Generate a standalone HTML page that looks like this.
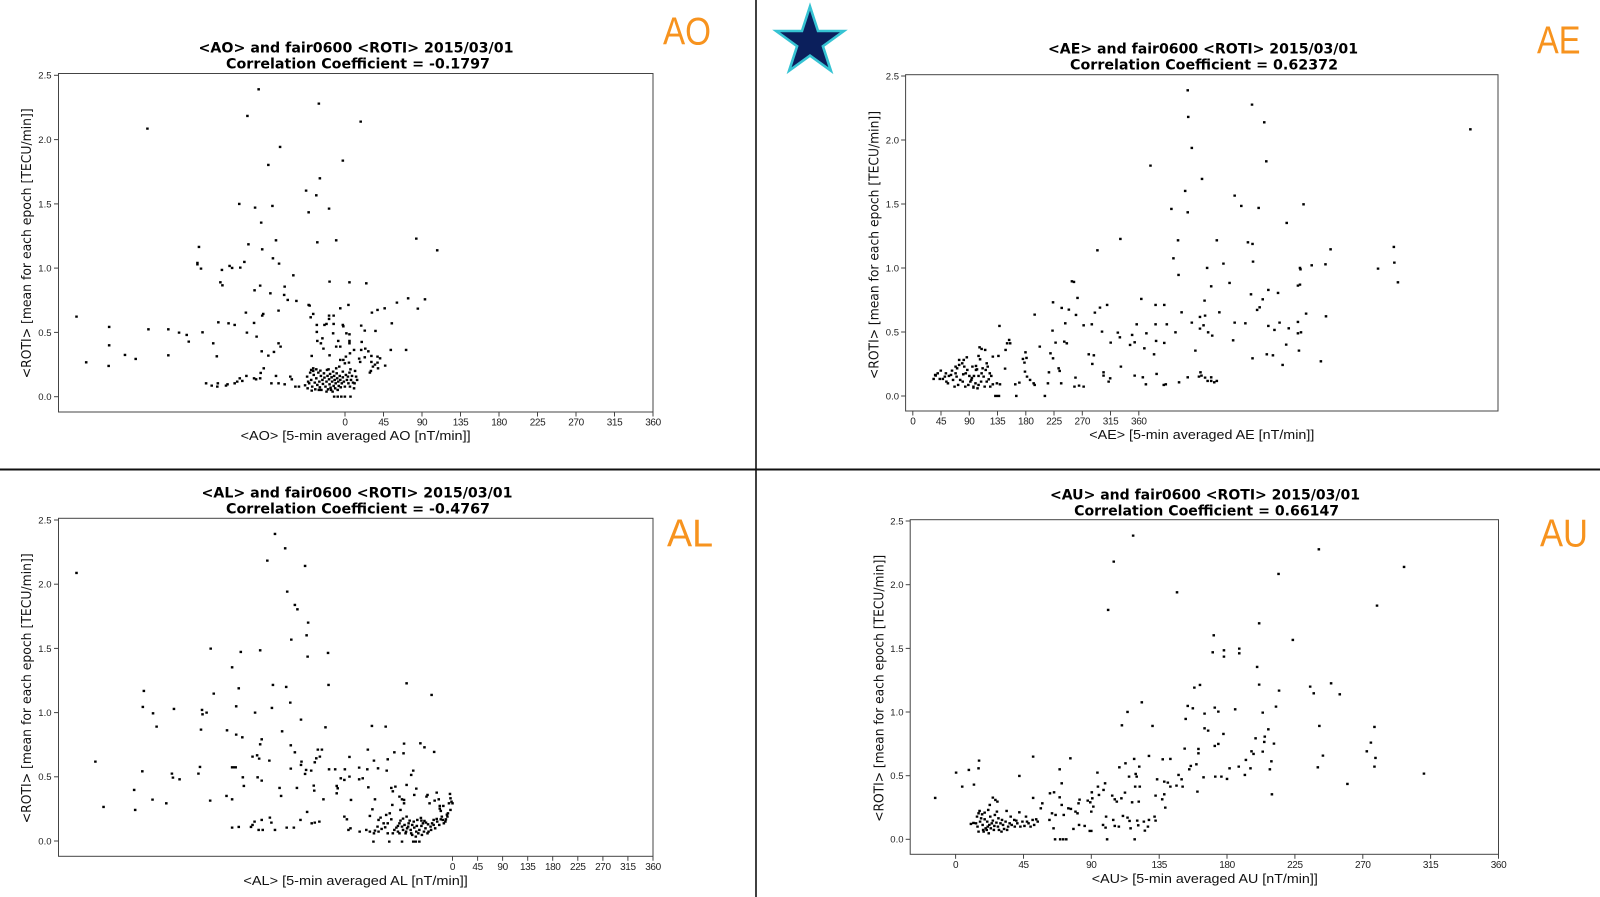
<!DOCTYPE html>
<html><head><meta charset="utf-8"><style>
html,body{margin:0;padding:0;background:#fff;}
svg{display:block;}
.t{font-family:"DejaVu Sans","Liberation Sans",sans-serif;font-weight:bold;font-size:14px;fill:#000;text-anchor:middle;}
.xl{font-family:"Liberation Sans",sans-serif;font-size:12.5px;fill:#111;text-anchor:middle;}
.yl{font-family:"DejaVu Sans","Liberation Sans",sans-serif;font-size:13px;fill:#111;text-anchor:middle;}
.yt{font-family:"Liberation Sans",sans-serif;font-size:9.5px;fill:#222;text-anchor:end;}
.xt{font-family:"Liberation Sans",sans-serif;font-size:10px;fill:#222;text-anchor:middle;letter-spacing:-0.4px;}
.big{font-family:"Liberation Sans",sans-serif;font-size:39px;fill:#F7931E;}
.sp{fill:none;stroke:#444;stroke-width:1;}
.tk{stroke:#444;stroke-width:1;}
.d{fill:#000;}
</style></head><body>
<svg width="1600" height="897" viewBox="0 0 1600 897" xmlns="http://www.w3.org/2000/svg">
<rect width="1600" height="897" fill="#fff"/>
<line x1="756" y1="0" x2="756" y2="897" stroke="#111" stroke-width="1.6"/>
<line x1="0" y1="469.5" x2="1600" y2="469.5" stroke="#111" stroke-width="2"/>
<polygon points="810,6.5 818,31 843.8,31 822.9,46.2 830.9,70.7 810,55.6 789.1,70.7 797.1,46.2 776.2,31 802,31" fill="#0B1F5C" stroke="#36C3D3" stroke-width="2.6" stroke-linejoin="miter"/>
<text class="big" x="663" y="44.5" textLength="48" lengthAdjust="spacingAndGlyphs">AO</text>
<text class="big" x="1537" y="53.5" textLength="43.5" lengthAdjust="spacingAndGlyphs">AE</text>
<text class="big" x="667" y="546.5" textLength="46" lengthAdjust="spacingAndGlyphs">AL</text>
<text class="big" x="1540" y="546.5" textLength="48" lengthAdjust="spacingAndGlyphs">AU</text>

<!-- ================= AO panel ================= -->
<text class="t" x="356" y="52.5" textLength="315" lengthAdjust="spacingAndGlyphs">&lt;AO&gt; and fair0600 &lt;ROTI&gt; 2015/03/01</text>
<text class="t" x="358" y="68.5" textLength="264" lengthAdjust="spacingAndGlyphs">Correlation Coefficient = -0.1797</text>
<rect class="sp" x="58.5" y="73.5" width="594.5" height="338.5"/>
<g class="tk">
<line x1="54" y1="396.7" x2="58.5" y2="396.7"/><line x1="54" y1="332.4" x2="58.5" y2="332.4"/><line x1="54" y1="268.1" x2="58.5" y2="268.1"/><line x1="54" y1="203.9" x2="58.5" y2="203.9"/><line x1="54" y1="139.6" x2="58.5" y2="139.6"/><line x1="54" y1="75.3" x2="58.5" y2="75.3"/>
<line x1="345" y1="412" x2="345" y2="416.5"/><line x1="383.5" y1="412" x2="383.5" y2="416.5"/><line x1="422" y1="412" x2="422" y2="416.5"/><line x1="460.5" y1="412" x2="460.5" y2="416.5"/><line x1="499" y1="412" x2="499" y2="416.5"/><line x1="537.5" y1="412" x2="537.5" y2="416.5"/><line x1="576" y1="412" x2="576" y2="416.5"/><line x1="614.5" y1="412" x2="614.5" y2="416.5"/><line x1="653" y1="412" x2="653" y2="416.5"/>
</g>
<text class="yt" x="51.5" y="400.1">0.0</text><text class="yt" x="51.5" y="335.8">0.5</text><text class="yt" x="51.5" y="271.5">1.0</text><text class="yt" x="51.5" y="207.3">1.5</text><text class="yt" x="51.5" y="143">2.0</text><text class="yt" x="51.5" y="78.7">2.5</text>
<text class="xt" x="345" y="425.5">0</text><text class="xt" x="383.5" y="425.5">45</text><text class="xt" x="422" y="425.5">90</text><text class="xt" x="460.5" y="425.5">135</text><text class="xt" x="499" y="425.5">180</text><text class="xt" x="537.5" y="425.5">225</text><text class="xt" x="576" y="425.5">270</text><text class="xt" x="614.5" y="425.5">315</text><text class="xt" x="653" y="425.5">360</text>
<text class="xl" x="355.6" y="440" textLength="230" lengthAdjust="spacingAndGlyphs">&lt;AO&gt; [5-min averaged AO [nT/min]]</text>
<text class="yl" transform="translate(31,243.3) rotate(-90)" textLength="270" lengthAdjust="spacingAndGlyphs">&lt;ROTI&gt; [mean for each epoch [TECU/min]]</text>
<g transform="translate(-1.3,-1.2) scale(0.5102,0.33333)">
<path class="d" d="M507 268h5v7h-5zM625 311h5v7h-5zM485 348h5v7h-5zM707 365h5v7h-5zM289 386h5v7h-5zM549 441h5v7h-5zM526 495h5v7h-5zM672 482h5v7h-5zM627 535h5v7h-5zM600 572h5v7h-5zM620 586h5v7h-5zM605 637h5v7h-5zM645 626h5v7h-5zM469 612h5v7h-5zM500 623h5v7h-5zM534 618h5v7h-5zM512 668h5v7h-5zM541 721h5v7h-5zM487 733h5v7h-5zM622 727h5v7h-5zM659 721h5v7h-5zM816 716h5v7h-5zM857 751h5v7h-5zM390 741h5v7h-5zM387 789h5v7h-5zM387 793h5v7h-5zM394 806h5v7h-5zM514 748h5v7h-5zM535 775h5v7h-5zM547 791h5v7h-5zM479 786h5v7h-5zM471 803h5v7h-5zM450 798h5v7h-5zM455 804h5v7h-5zM435 810h5v7h-5zM432 847h5v7h-5zM436 856h5v7h-5zM575 826h5v7h-5zM510 857h5v7h-5zM499 871h5v7h-5zM530 880h5v7h-5zM558 860h5v7h-5zM557 885h5v7h-5zM564 900h5v7h-5zM581 903h5v7h-5zM646 845h5v7h-5zM685 847h5v7h-5zM718 850h5v7h-5zM605 915h5v7h-5zM607 917h5v7h-5zM683 915h5v7h-5zM667 925h5v7h-5zM729 938h5v7h-5zM740 930h5v7h-5zM754 925h5v7h-5zM778 908h5v7h-5zM800 895h5v7h-5zM833 898h5v7h-5zM819 926h5v7h-5zM482 938h5v7h-5zM516 942h5v7h-5zM514 947h5v7h-5zM546 932h5v7h-5zM614 942h5v7h-5zM609 952h5v7h-5zM645 947h5v7h-5zM645 957h5v7h-5zM654 947h5v7h-5zM621 975h5v7h-5zM636 975h5v7h-5zM640 972h5v7h-5zM654 972h5v7h-5zM672 975h5v7h-5zM673 979h5v7h-5zM708 977h5v7h-5zM715 992h5v7h-5zM736 993h5v7h-5zM768 970h5v7h-5zM428 967h5v7h-5zM448 970h5v7h-5zM460 975h5v7h-5zM498 969h5v7h-5zM150 950h5v7h-5zM214 981h5v7h-5zM291 988h5v7h-5zM330 988h5v7h-5zM351 998h5v7h-5zM366 1005h5v7h-5zM397 997h5v7h-5zM370 1025h5v7h-5zM214 1036h5v7h-5zM245 1065h5v7h-5zM266 1077h5v7h-5zM169 1087h5v7h-5zM213 1098h5v7h-5zM330 1066h5v7h-5zM418 1030h5v7h-5zM425 1069h5v7h-5zM484 998h5v7h-5zM503 1010h5v7h-5zM546 1030h5v7h-5zM550 1040h5v7h-5zM513 1054h5v7h-5zM537 1056h5v7h-5zM526 1067h5v7h-5zM517 1105h5v7h-5zM511 1119h5v7h-5zM621 996h5v7h-5zM653 1000h5v7h-5zM685 1003h5v7h-5zM679 1000h5v7h-5zM663 1023h5v7h-5zM685 1023h5v7h-5zM685 1030h5v7h-5zM709 1026h5v7h-5zM622 1023h5v7h-5zM629 1030h5v7h-5zM632 1015h5v7h-5zM611 1068h5v7h-5zM634 1046h5v7h-5zM646 1066h5v7h-5zM659 1040h5v7h-5zM667 1040h5v7h-5zM686 1060h5v7h-5zM694 1050h5v7h-5zM708 1050h5v7h-5zM716 1046h5v7h-5zM722 1054h5v7h-5zM678 1070h5v7h-5zM673 1080h5v7h-5zM667 1080h5v7h-5zM676 1090h5v7h-5zM684 1088h5v7h-5zM665 1100h5v7h-5zM704 1076h5v7h-5zM706 1086h5v7h-5zM715 1072h5v7h-5zM728 1068h5v7h-5zM740 1070h5v7h-5zM745 1075h5v7h-5zM728 1086h5v7h-5zM740 1088h5v7h-5zM735 1094h5v7h-5zM731 1100h5v7h-5zM741 1105h5v7h-5zM755 1097h5v7h-5zM727 1113h5v7h-5zM725 1118h5v7h-5zM766 1050h5v7h-5zM796 1050h5v7h-5zM404 1150h5v7h-5zM427 1150h5v7h-5zM426 1160h5v7h-5zM415 1157h5v7h-5zM443 1157h5v7h-5zM446 1153h5v7h-5zM460 1150h5v7h-5zM465 1145h5v7h-5zM470 1135h5v7h-5zM475 1143h5v7h-5zM483 1128h5v7h-5zM498 1135h5v7h-5zM510 1135h5v7h-5zM502 1138h5v7h-5zM532 1150h5v7h-5zM546 1150h5v7h-5zM558 1153h5v7h-5zM541 1128h5v7h-5zM569 1130h5v7h-5zM572 1138h5v7h-5zM579 1160h5v7h-5zM586 1160h5v7h-5zM598 1156h5v7h-5zM610 1110h5v7h-5zM614 1113h5v7h-5zM620 1108h5v7h-5zM655 1190h5v7h-5zM662 1190h5v7h-5zM669 1190h5v7h-5zM676 1190h5v7h-5zM687 1190h5v7h-5zM603 1165h5v7h-5zM606 1150h5v7h-5zM610 1140h5v7h-5zM612 1160h5v7h-5zM615 1125h5v7h-5zM617 1148h5v7h-5zM618 1168h5v7h-5zM620 1135h5v7h-5zM622 1155h5v7h-5zM624 1118h5v7h-5zM626 1145h5v7h-5zM627 1162h5v7h-5zM629 1128h5v7h-5zM630 1170h5v7h-5zM632 1140h5v7h-5zM633 1152h5v7h-5zM635 1120h5v7h-5zM636 1133h5v7h-5zM638 1160h5v7h-5zM640 1145h5v7h-5zM641 1110h5v7h-5zM642 1128h5v7h-5zM643 1168h5v7h-5zM645 1138h5v7h-5zM646 1153h5v7h-5zM647 1122h5v7h-5zM648 1163h5v7h-5zM650 1132h5v7h-5zM651 1145h5v7h-5zM652 1175h5v7h-5zM653 1115h5v7h-5zM654 1158h5v7h-5zM655 1128h5v7h-5zM656 1140h5v7h-5zM657 1165h5v7h-5zM658 1150h5v7h-5zM660 1120h5v7h-5zM661 1135h5v7h-5zM662 1170h5v7h-5zM663 1145h5v7h-5zM664 1158h5v7h-5zM666 1128h5v7h-5zM667 1140h5v7h-5zM668 1162h5v7h-5zM670 1150h5v7h-5zM672 1132h5v7h-5zM674 1145h5v7h-5zM676 1160h5v7h-5zM678 1125h5v7h-5zM680 1140h5v7h-5zM682 1130h5v7h-5zM683 1150h5v7h-5zM685 1118h5v7h-5zM686 1160h5v7h-5zM688 1140h5v7h-5zM690 1128h5v7h-5zM692 1148h5v7h-5zM694 1165h5v7h-5zM696 1113h5v7h-5zM698 1130h5v7h-5zM700 1140h5v7h-5zM602 1130h5v7h-5zM608 1118h5v7h-5zM614 1105h5v7h-5zM628 1112h5v7h-5zM644 1108h5v7h-5zM659 1105h5v7h-5zM672 1115h5v7h-5zM687 1108h5v7h-5zM695 1150h5v7h-5zM640 1175h5v7h-5zM625 1170h5v7h-5zM611 1172h5v7h-5zM604 1145h5v7h-5zM649 1170h5v7h-5z"/>
</g>

<!-- ================= AE panel ================= -->
<text class="t" x="1203" y="53.5" textLength="310" lengthAdjust="spacingAndGlyphs">&lt;AE&gt; and fair0600 &lt;ROTI&gt; 2015/03/01</text>
<text class="t" x="1204" y="69.3" textLength="268" lengthAdjust="spacingAndGlyphs">Correlation Coefficient = 0.62372</text>
<rect class="sp" x="905.6" y="74.7" width="592.4" height="336.3"/>
<g class="tk">
<line x1="901.1" y1="396" x2="905.6" y2="396"/><line x1="901.1" y1="332" x2="905.6" y2="332"/><line x1="901.1" y1="268" x2="905.6" y2="268"/><line x1="901.1" y1="204" x2="905.6" y2="204"/><line x1="901.1" y1="140" x2="905.6" y2="140"/><line x1="901.1" y1="76" x2="905.6" y2="76"/>
<line x1="912.8" y1="411" x2="912.8" y2="415.5"/><line x1="941" y1="411" x2="941" y2="415.5"/><line x1="969.3" y1="411" x2="969.3" y2="415.5"/><line x1="997.5" y1="411" x2="997.5" y2="415.5"/><line x1="1025.8" y1="411" x2="1025.8" y2="415.5"/><line x1="1054" y1="411" x2="1054" y2="415.5"/><line x1="1082.3" y1="411" x2="1082.3" y2="415.5"/><line x1="1110.5" y1="411" x2="1110.5" y2="415.5"/><line x1="1138.8" y1="411" x2="1138.8" y2="415.5"/>
</g>
<text class="yt" x="899" y="399.4">0.0</text><text class="yt" x="899" y="335.4">0.5</text><text class="yt" x="899" y="271.4">1.0</text><text class="yt" x="899" y="207.4">1.5</text><text class="yt" x="899" y="143.4">2.0</text><text class="yt" x="899" y="79.4">2.5</text>
<text class="xt" x="912.8" y="424.5">0</text><text class="xt" x="941" y="424.5">45</text><text class="xt" x="969.3" y="424.5">90</text><text class="xt" x="997.5" y="424.5">135</text><text class="xt" x="1025.8" y="424.5">180</text><text class="xt" x="1054" y="424.5">225</text><text class="xt" x="1082.3" y="424.5">270</text><text class="xt" x="1110.5" y="424.5">315</text><text class="xt" x="1138.8" y="424.5">360</text>
<text class="xl" x="1201.8" y="439" textLength="225" lengthAdjust="spacingAndGlyphs">&lt;AE&gt; [5-min averaged AE [nT/min]]</text>
<text class="yl" transform="translate(878.5,245) rotate(-90)" textLength="268" lengthAdjust="spacingAndGlyphs">&lt;ROTI&gt; [mean for each epoch [TECU/min]]</text>
<g transform="translate(798.7,-1.2) scale(0.5102,0.33333)">
<path class="d" d="M760 271h5v7h-5zM761 351h5v7h-5zM886 314h5v7h-5zM910 367h5v7h-5zM1314 388h5v7h-5zM768 444h5v7h-5zM914 484h5v7h-5zM687 497h5v7h-5zM788 537h5v7h-5zM755 573h5v7h-5zM852 587h5v7h-5zM865 618h5v7h-5zM899 624h5v7h-5zM987 613h5v7h-5zM728 627h5v7h-5zM760 637h5v7h-5zM954 669h5v7h-5zM628 717h5v7h-5zM741 721h5v7h-5zM817 721h5v7h-5zM878 727h5v7h-5zM887 732h5v7h-5zM583 751h5v7h-5zM1040 748h5v7h-5zM1164 741h5v7h-5zM732 775h5v7h-5zM888 785h5v7h-5zM830 791h5v7h-5zM798 804h5v7h-5zM980 804h5v7h-5zM981 808h5v7h-5zM1003 796h5v7h-5zM1030 793h5v7h-5zM1133 806h5v7h-5zM1165 788h5v7h-5zM1172 847h5v7h-5zM742 825h5v7h-5zM842 849h5v7h-5zM806 859h5v7h-5zM976 857h5v7h-5zM980 854h5v7h-5zM533 844h5v7h-5zM537 846h5v7h-5zM748 937h5v7h-5zM884 883h5v7h-5zM918 870h5v7h-5zM937 879h5v7h-5zM907 898h5v7h-5zM901 922h5v7h-5zM896 930h5v7h-5zM793 902h5v7h-5zM794 947h5v7h-5zM822 937h5v7h-5zM784 951h5v7h-5zM544 894h5v7h-5zM669 897h5v7h-5zM697 915h5v7h-5zM714 915h5v7h-5zM602 915h5v7h-5zM588 923h5v7h-5zM578 938h5v7h-5zM496 907h5v7h-5zM513 924h5v7h-5zM527 929h5v7h-5zM541 945h5v7h-5zM460 944h5v7h-5zM768 968h5v7h-5zM791 976h5v7h-5zM784 986h5v7h-5zM800 997h5v7h-5zM808 1007h5v7h-5zM736 997h5v7h-5zM697 973h5v7h-5zM719 973h5v7h-5zM660 973h5v7h-5zM679 1000h5v7h-5zM651 1005h5v7h-5zM656 1027h5v7h-5zM647 1035h5v7h-5zM623 998h5v7h-5zM627 1012h5v7h-5zM609 1028h5v7h-5zM592 995h5v7h-5zM572 973h5v7h-5zM556 976h5v7h-5zM520 970h5v7h-5zM495 992h5v7h-5zM501 1028h5v7h-5zM518 1025h5v7h-5zM523 1030h5v7h-5zM852 968h5v7h-5zM873 970h5v7h-5zM849 1021h5v7h-5zM918 978h5v7h-5zM930 990h5v7h-5zM940 968h5v7h-5zM958 985h5v7h-5zM976 966h5v7h-5zM976 1000h5v7h-5zM982 997h5v7h-5zM992 941h5v7h-5zM1031 949h5v7h-5zM953 1034h5v7h-5zM978 1052h5v7h-5zM946 1095h5v7h-5zM915 1063h5v7h-5zM927 1066h5v7h-5zM887 1075h5v7h-5zM1021 1084h5v7h-5zM775 1052h5v7h-5zM694 1063h5v7h-5zM698 1023h5v7h-5zM714 1029h5v7h-5zM675 1045h5v7h-5zM629 1100h5v7h-5zM566 1063h5v7h-5zM576 1066h5v7h-5zM573 1092h5v7h-5zM595 1117h5v7h-5zM595 1127h5v7h-5zM608 1135h5v7h-5zM605 1145h5v7h-5zM656 1127h5v7h-5zM672 1132h5v7h-5zM678 1153h5v7h-5zM699 1122h5v7h-5zM713 1155h5v7h-5zM717 1153h5v7h-5zM743 1147h5v7h-5zM760 1132h5v7h-5zM782 1130h5v7h-5zM785 1117h5v7h-5zM787 1127h5v7h-5zM794 1133h5v7h-5zM799 1143h5v7h-5zM806 1132h5v7h-5zM806 1143h5v7h-5zM812 1147h5v7h-5zM817 1143h5v7h-5zM491 1060h5v7h-5zM496 1075h5v7h-5zM507 1105h5v7h-5zM509 1113h5v7h-5zM512 1150h5v7h-5zM488 1117h5v7h-5zM486 1150h5v7h-5zM480 1188h5v7h-5zM470 1040h5v7h-5zM442 1057h5v7h-5zM444 1074h5v7h-5zM440 1088h5v7h-5zM437 1077h5v7h-5zM441 1115h5v7h-5zM445 1130h5v7h-5zM451 1140h5v7h-5zM458 1150h5v7h-5zM460 1155h5v7h-5zM430 1148h5v7h-5zM422 1153h5v7h-5zM424 1188h5v7h-5zM406 1030h5v7h-5zM403 1050h5v7h-5zM410 1020h5v7h-5zM412 1030h5v7h-5zM391 978h5v7h-5zM389 1068h5v7h-5zM402 1106h5v7h-5zM387 1188h5v7h-5zM390 1188h5v7h-5zM383 1188h5v7h-5zM386 1150h5v7h-5zM392 1153h5v7h-5zM378 1070h5v7h-5zM378 1153h5v7h-5zM373 1160h5v7h-5zM363 1050h5v7h-5zM366 1090h5v7h-5zM364 1110h5v7h-5zM352 1042h5v7h-5zM356 1047h5v7h-5zM358 1105h5v7h-5zM350 1068h5v7h-5zM353 1078h5v7h-5zM345 1098h5v7h-5zM347 1108h5v7h-5zM341 1128h5v7h-5zM337 1134h5v7h-5zM336 1140h5v7h-5zM340 1160h5v7h-5zM340 1163h5v7h-5zM327 1072h5v7h-5zM321 1080h5v7h-5zM312 1080h5v7h-5zM318 1090h5v7h-5zM312 1095h5v7h-5zM305 1100h5v7h-5zM308 1105h5v7h-5zM305 1120h5v7h-5zM307 1130h5v7h-5zM325 1120h5v7h-5zM320 1123h5v7h-5zM319 1145h5v7h-5zM324 1160h5v7h-5zM328 1110h5v7h-5zM296 1125h5v7h-5zM292 1128h5v7h-5zM287 1145h5v7h-5zM280 1137h5v7h-5zM274 1137h5v7h-5zM276 1112h5v7h-5zM270 1120h5v7h-5zM266 1127h5v7h-5zM262 1137h5v7h-5zM265 1125h5v7h-5zM303 1160h5v7h-5zM330 1155h5v7h-5zM350 1155h5v7h-5zM355 1145h5v7h-5zM360 1130h5v7h-5zM370 1138h5v7h-5zM375 1128h5v7h-5zM350 1128h5v7h-5zM345 1110h5v7h-5zM540 1133h5v7h-5zM538 1160h5v7h-5zM547 1157h5v7h-5zM556 1160h5v7h-5zM284 1130h5v7h-5zM290 1150h5v7h-5zM298 1112h5v7h-5zM314 1140h5v7h-5zM332 1128h5v7h-5zM338 1100h5v7h-5zM344 1150h5v7h-5zM356 1120h5v7h-5zM362 1160h5v7h-5zM368 1100h5v7h-5zM300 1140h5v7h-5zM286 1120h5v7h-5zM310 1155h5v7h-5zM322 1100h5v7h-5zM334 1145h5v7h-5zM348 1165h5v7h-5zM366 1145h5v7h-5zM372 1120h5v7h-5z"/>
</g>

<!-- ================= AL panel ================= -->
<text class="t" x="357" y="497.3" textLength="311" lengthAdjust="spacingAndGlyphs">&lt;AL&gt; and fair0600 &lt;ROTI&gt; 2015/03/01</text>
<text class="t" x="358" y="513.3" textLength="264" lengthAdjust="spacingAndGlyphs">Correlation Coefficient = -0.4767</text>
<rect class="sp" x="58.5" y="518.3" width="594.5" height="338"/>
<g class="tk">
<line x1="54" y1="841" x2="58.5" y2="841"/><line x1="54" y1="776.8" x2="58.5" y2="776.8"/><line x1="54" y1="712.6" x2="58.5" y2="712.6"/><line x1="54" y1="648.4" x2="58.5" y2="648.4"/><line x1="54" y1="584.2" x2="58.5" y2="584.2"/><line x1="54" y1="520" x2="58.5" y2="520"/>
<line x1="452.5" y1="856.3" x2="452.5" y2="860.8"/><line x1="477.6" y1="856.3" x2="477.6" y2="860.8"/><line x1="502.6" y1="856.3" x2="502.6" y2="860.8"/><line x1="527.7" y1="856.3" x2="527.7" y2="860.8"/><line x1="552.7" y1="856.3" x2="552.7" y2="860.8"/><line x1="577.8" y1="856.3" x2="577.8" y2="860.8"/><line x1="602.9" y1="856.3" x2="602.9" y2="860.8"/><line x1="627.9" y1="856.3" x2="627.9" y2="860.8"/><line x1="653" y1="856.3" x2="653" y2="860.8"/>
</g>
<text class="yt" x="51.5" y="844.4">0.0</text><text class="yt" x="51.5" y="780.2">0.5</text><text class="yt" x="51.5" y="716">1.0</text><text class="yt" x="51.5" y="651.8">1.5</text><text class="yt" x="51.5" y="587.6">2.0</text><text class="yt" x="51.5" y="523.4">2.5</text>
<text class="xt" x="452.5" y="869.8">0</text><text class="xt" x="477.6" y="869.8">45</text><text class="xt" x="502.6" y="869.8">90</text><text class="xt" x="527.7" y="869.8">135</text><text class="xt" x="552.7" y="869.8">180</text><text class="xt" x="577.8" y="869.8">225</text><text class="xt" x="602.9" y="869.8">270</text><text class="xt" x="627.9" y="869.8">315</text><text class="xt" x="653" y="869.8">360</text>
<text class="xl" x="355.6" y="885" textLength="224.5" lengthAdjust="spacingAndGlyphs">&lt;AL&gt; [5-min averaged AL [nT/min]]</text>
<text class="yl" transform="translate(31,688.3) rotate(-90)" textLength="270" lengthAdjust="spacingAndGlyphs">&lt;ROTI&gt; [mean for each epoch [TECU/min]]</text>
<g transform="translate(-1.3,448.8) scale(0.5102,0.33333)">
<path class="d" d="M539 252h5v7h-5zM559 295h5v7h-5zM524 332h5v7h-5zM598 348h5v7h-5zM150 369h5v7h-5zM563 425h5v7h-5zM578 465h5v7h-5zM583 478h5v7h-5zM604 518h5v7h-5zM601 556h5v7h-5zM571 569h5v7h-5zM413 596h5v7h-5zM472 606h5v7h-5zM510 601h5v7h-5zM603 620h5v7h-5zM643 609h5v7h-5zM455 652h5v7h-5zM535 705h5v7h-5zM561 711h5v7h-5zM644 705h5v7h-5zM797 700h5v7h-5zM846 735h5v7h-5zM468 715h5v7h-5zM282 723h5v7h-5zM419 731h5v7h-5zM569 758h5v7h-5zM533 774h5v7h-5zM463 769h5v7h-5zM280 771h5v7h-5zM300 790h5v7h-5zM341 777h5v7h-5zM396 780h5v7h-5zM397 793h5v7h-5zM405 788h5v7h-5zM500 788h5v7h-5zM590 809h5v7h-5zM307 830h5v7h-5zM394 839h5v7h-5zM445 841h5v7h-5zM463 854h5v7h-5zM475 862h5v7h-5zM553 844h5v7h-5zM638 832h5v7h-5zM729 828h5v7h-5zM756 830h5v7h-5zM513 868h5v7h-5zM510 883h5v7h-5zM570 886h5v7h-5zM578 907h5v7h-5zM623 899h5v7h-5zM631 899h5v7h-5zM620 925h5v7h-5zM617 937h5v7h-5zM627 920h5v7h-5zM591 935h5v7h-5zM600 960h5v7h-5zM610 962h5v7h-5zM598 972h5v7h-5zM570 956h5v7h-5zM590 945h5v7h-5zM528 932h5v7h-5zM495 920h5v7h-5zM504 916h5v7h-5zM508 926h5v7h-5zM455 952h5v7h-5zM462 952h5v7h-5zM476 982h5v7h-5zM478 1008h5v7h-5zM505 982h5v7h-5zM513 992h5v7h-5zM548 1014h5v7h-5zM551 1038h5v7h-5zM582 1014h5v7h-5zM615 1007h5v7h-5zM616 1022h5v7h-5zM634 1048h5v7h-5zM645 958h5v7h-5zM657 958h5v7h-5zM676 958h5v7h-5zM685 921h5v7h-5zM704 953h5v7h-5zM720 958h5v7h-5zM711 985h5v7h-5zM704 988h5v7h-5zM685 980h5v7h-5zM675 990h5v7h-5zM668 985h5v7h-5zM660 1008h5v7h-5zM662 1015h5v7h-5zM660 1030h5v7h-5zM688 1050h5v7h-5zM722 1012h5v7h-5zM721 899h5v7h-5zM733 932h5v7h-5zM741 955h5v7h-5zM760 928h5v7h-5zM758 962h5v7h-5zM773 907h5v7h-5zM791 910h5v7h-5zM792 881h5v7h-5zM824 880h5v7h-5zM832 892h5v7h-5zM851 906h5v7h-5zM810 962h5v7h-5zM806 975h5v7h-5zM797 1005h5v7h-5zM816 1016h5v7h-5zM767 1014h5v7h-5zM770 1024h5v7h-5zM775 1010h5v7h-5zM735 1048h5v7h-5zM730 1078h5v7h-5zM725 1098h5v7h-5zM733 1150h5v7h-5zM742 1110h5v7h-5zM746 1103h5v7h-5zM757 1095h5v7h-5zM764 1090h5v7h-5zM769 1065h5v7h-5zM783 1040h5v7h-5zM788 1048h5v7h-5zM792 1050h5v7h-5zM785 1080h5v7h-5zM792 1060h5v7h-5zM812 1035h5v7h-5zM836 1040h5v7h-5zM838 1035h5v7h-5zM842 1060h5v7h-5zM852 1052h5v7h-5zM856 1028h5v7h-5zM860 1048h5v7h-5zM862 1068h5v7h-5zM862 1076h5v7h-5zM864 1083h5v7h-5zM869 1068h5v7h-5zM880 1060h5v7h-5zM885 1055h5v7h-5zM882 1032h5v7h-5zM883 1080h5v7h-5zM878 1090h5v7h-5zM877 1100h5v7h-5zM874 1108h5v7h-5zM864 1108h5v7h-5zM856 1107h5v7h-5zM850 1110h5v7h-5zM847 1120h5v7h-5zM839 1123h5v7h-5zM832 1113h5v7h-5zM825 1104h5v7h-5zM818 1110h5v7h-5zM811 1115h5v7h-5zM803 1112h5v7h-5zM797 1100h5v7h-5zM790 1106h5v7h-5zM785 1112h5v7h-5zM783 1120h5v7h-5zM780 1128h5v7h-5zM777 1133h5v7h-5zM773 1140h5v7h-5zM790 1140h5v7h-5zM796 1145h5v7h-5zM800 1130h5v7h-5zM805 1140h5v7h-5zM812 1133h5v7h-5zM816 1145h5v7h-5zM820 1150h5v7h-5zM822 1140h5v7h-5zM826 1128h5v7h-5zM829 1120h5v7h-5zM834 1135h5v7h-5zM840 1145h5v7h-5zM845 1140h5v7h-5zM850 1125h5v7h-5zM857 1115h5v7h-5zM870 1120h5v7h-5zM866 1100h5v7h-5zM876 1094h5v7h-5zM887 1060h5v7h-5zM883 1045h5v7h-5zM767 1108h5v7h-5zM760 1120h5v7h-5zM755 1132h5v7h-5zM748 1137h5v7h-5zM740 1130h5v7h-5zM725 1145h5v7h-5zM718 1140h5v7h-5zM705 1145h5v7h-5zM687 1135h5v7h-5zM683 1140h5v7h-5zM680 1108h5v7h-5zM675 1100h5v7h-5zM263 1020h5v7h-5zM265 1080h5v7h-5zM299 1049h5v7h-5zM326 1060h5v7h-5zM203 1071h5v7h-5zM187 935h5v7h-5zM279 964h5v7h-5zM337 971h5v7h-5zM339 983h5v7h-5zM352 988h5v7h-5zM389 971h5v7h-5zM392 951h5v7h-5zM412 1052h5v7h-5zM444 1038h5v7h-5zM455 1048h5v7h-5zM458 952h5v7h-5zM455 1133h5v7h-5zM468 1131h5v7h-5zM492 1131h5v7h-5zM495 1125h5v7h-5zM499 1115h5v7h-5zM507 1140h5v7h-5zM513 1110h5v7h-5zM515 1140h5v7h-5zM529 1103h5v7h-5zM532 1118h5v7h-5zM539 1140h5v7h-5zM562 1133h5v7h-5zM576 1133h5v7h-5zM589 1110h5v7h-5zM602 1086h5v7h-5zM611 1120h5v7h-5zM617 1118h5v7h-5zM626 1115h5v7h-5zM732 1175h5v7h-5zM763 1175h5v7h-5zM788 1175h5v7h-5zM810 1175h5v7h-5zM815 1175h5v7h-5zM822 1175h5v7h-5zM783 1150h5v7h-5zM795 1150h5v7h-5zM808 1155h5v7h-5zM815 1160h5v7h-5zM827 1155h5v7h-5zM760 1150h5v7h-5zM742 1145h5v7h-5zM735 1142h5v7h-5zM793 1125h5v7h-5zM801 1120h5v7h-5zM808 1125h5v7h-5zM817 1128h5v7h-5zM826 1112h5v7h-5zM835 1118h5v7h-5zM844 1130h5v7h-5zM853 1135h5v7h-5zM861 1125h5v7h-5zM868 1110h5v7h-5zM873 1115h5v7h-5zM780 1145h5v7h-5zM788 1130h5v7h-5zM798 1135h5v7h-5zM806 1150h5v7h-5zM831 1145h5v7h-5zM838 1150h5v7h-5zM770 1150h5v7h-5zM752 1120h5v7h-5z"/>
</g>

<!-- ================= AU panel ================= -->
<text class="t" x="1205" y="499.3" textLength="310" lengthAdjust="spacingAndGlyphs">&lt;AU&gt; and fair0600 &lt;ROTI&gt; 2015/03/01</text>
<text class="t" x="1206.6" y="515.3" textLength="265" lengthAdjust="spacingAndGlyphs">Correlation Coefficient = 0.66147</text>
<rect class="sp" x="910.2" y="519.7" width="588.3" height="334.6"/>
<g class="tk">
<line x1="905.7" y1="839.3" x2="910.2" y2="839.3"/><line x1="905.7" y1="775.7" x2="910.2" y2="775.7"/><line x1="905.7" y1="712" x2="910.2" y2="712"/><line x1="905.7" y1="648.4" x2="910.2" y2="648.4"/><line x1="905.7" y1="584.7" x2="910.2" y2="584.7"/><line x1="905.7" y1="521" x2="910.2" y2="521"/>
<line x1="955.6" y1="854.3" x2="955.6" y2="858.8"/><line x1="1023.5" y1="854.3" x2="1023.5" y2="858.8"/><line x1="1091.3" y1="854.3" x2="1091.3" y2="858.8"/><line x1="1159.2" y1="854.3" x2="1159.2" y2="858.8"/><line x1="1227" y1="854.3" x2="1227" y2="858.8"/><line x1="1294.9" y1="854.3" x2="1294.9" y2="858.8"/><line x1="1362.8" y1="854.3" x2="1362.8" y2="858.8"/><line x1="1430.6" y1="854.3" x2="1430.6" y2="858.8"/><line x1="1498.5" y1="854.3" x2="1498.5" y2="858.8"/>
</g>
<text class="yt" x="903.5" y="842.7">0.0</text><text class="yt" x="903.5" y="779.1">0.5</text><text class="yt" x="903.5" y="715.4">1.0</text><text class="yt" x="903.5" y="651.8">1.5</text><text class="yt" x="903.5" y="588.1">2.0</text><text class="yt" x="903.5" y="524.4">2.5</text>
<text class="xt" x="955.6" y="867.8">0</text><text class="xt" x="1023.5" y="867.8">45</text><text class="xt" x="1091.3" y="867.8">90</text><text class="xt" x="1159.2" y="867.8">135</text><text class="xt" x="1227" y="867.8">180</text><text class="xt" x="1294.9" y="867.8">225</text><text class="xt" x="1362.8" y="867.8">270</text><text class="xt" x="1430.6" y="867.8">315</text><text class="xt" x="1498.5" y="867.8">360</text>
<text class="xl" x="1204.8" y="883" textLength="226" lengthAdjust="spacingAndGlyphs">&lt;AU&gt; [5-min averaged AU [nT/min]]</text>
<text class="yl" transform="translate(883.5,688.3) rotate(-90)" textLength="267" lengthAdjust="spacingAndGlyphs">&lt;ROTI&gt; [mean for each epoch [TECU/min]]</text>
<g transform="translate(798.7,448.8) scale(0.5102,0.33333)">
<path class="d" d="M653 257h5v7h-5zM615 335h5v7h-5zM1017 298h5v7h-5zM1184 351h5v7h-5zM938 372h5v7h-5zM739 427h5v7h-5zM604 480h5v7h-5zM1131 467h5v7h-5zM900 520h5v7h-5zM966 570h5v7h-5zM811 556h5v7h-5zM809 607h5v7h-5zM831 601h5v7h-5zM831 620h5v7h-5zM861 596h5v7h-5zM861 610h5v7h-5zM896 651h5v7h-5zM900 704h5v7h-5zM1000 710h5v7h-5zM1007 730h5v7h-5zM1041 700h5v7h-5zM1058 733h5v7h-5zM939 722h5v7h-5zM784 705h5v7h-5zM773 713h5v7h-5zM670 757h5v7h-5zM642 786h5v7h-5zM631 826h5v7h-5zM691 828h5v7h-5zM760 768h5v7h-5zM770 775h5v7h-5zM756 807h5v7h-5zM793 791h5v7h-5zM813 773h5v7h-5zM820 785h5v7h-5zM853 778h5v7h-5zM933 770h5v7h-5zM907 788h5v7h-5zM1018 828h5v7h-5zM1126 831h5v7h-5zM793 835h5v7h-5zM800 842h5v7h-5zM830 852h5v7h-5zM918 838h5v7h-5zM893 865h5v7h-5zM911 860h5v7h-5zM910 876h5v7h-5zM929 881h5v7h-5zM820 882h5v7h-5zM813 888h5v7h-5zM885 904h5v7h-5zM889 912h5v7h-5zM907 905h5v7h-5zM1111 904h5v7h-5zM1119 878h5v7h-5zM1025 917h5v7h-5zM1128 924h5v7h-5zM1126 950h5v7h-5zM754 896h5v7h-5zM781 897h5v7h-5zM781 910h5v7h-5zM726 927h5v7h-5zM766 948h5v7h-5zM777 943h5v7h-5zM763 958h5v7h-5zM742 975h5v7h-5zM748 988h5v7h-5zM738 1007h5v7h-5zM726 1010h5v7h-5zM714 995h5v7h-5zM721 998h5v7h-5zM700 988h5v7h-5zM714 1033h5v7h-5zM710 1048h5v7h-5zM716 1073h5v7h-5zM697 1037h5v7h-5zM684 918h5v7h-5zM711 928h5v7h-5zM655 927h5v7h-5zM626 952h5v7h-5zM638 940h5v7h-5zM658 972h5v7h-5zM660 980h5v7h-5zM665 950h5v7h-5zM645 980h5v7h-5zM657 1010h5v7h-5zM666 1010h5v7h-5zM637 1028h5v7h-5zM630 1045h5v7h-5zM617 1048h5v7h-5zM621 1055h5v7h-5zM651 1057h5v7h-5zM664 1055h5v7h-5zM612 1037h5v7h-5zM595 1020h5v7h-5zM598 1000h5v7h-5zM584 1010h5v7h-5zM586 1035h5v7h-5zM583 968h5v7h-5zM572 1027h5v7h-5zM573 1045h5v7h-5zM569 1057h5v7h-5zM575 1070h5v7h-5zM571 1085h5v7h-5zM564 1052h5v7h-5zM548 1049h5v7h-5zM546 1060h5v7h-5zM540 1085h5v7h-5zM544 1090h5v7h-5zM531 1077h5v7h-5zM513 1000h5v7h-5zM509 958h5v7h-5zM509 1042h5v7h-5zM498 1027h5v7h-5zM490 1030h5v7h-5zM513 1065h5v7h-5zM517 1095h5v7h-5zM526 1075h5v7h-5zM501 1095h5v7h-5zM494 1090h5v7h-5zM530 925h5v7h-5zM457 920h5v7h-5zM430 978h5v7h-5zM475 1060h5v7h-5zM472 1075h5v7h-5zM457 1044h5v7h-5zM463 1108h5v7h-5zM459 1125h5v7h-5zM466 1115h5v7h-5zM445 1115h5v7h-5zM443 1100h5v7h-5zM430 1087h5v7h-5zM432 1130h5v7h-5zM424 1112h5v7h-5zM421 1130h5v7h-5zM413 1100h5v7h-5zM411 1120h5v7h-5zM405 1083h5v7h-5zM406 1140h5v7h-5zM400 1137h5v7h-5zM396 1110h5v7h-5zM389 1105h5v7h-5zM383 1050h5v7h-5zM387 1055h5v7h-5zM378 1043h5v7h-5zM372 1065h5v7h-5zM369 1080h5v7h-5zM357 1093h5v7h-5zM355 1105h5v7h-5zM352 1083h5v7h-5zM350 1090h5v7h-5zM348 1130h5v7h-5zM345 1120h5v7h-5zM340 1119h5v7h-5zM335 1122h5v7h-5zM359 1140h5v7h-5zM360 1145h5v7h-5zM367 1115h5v7h-5zM368 1130h5v7h-5zM376 1120h5v7h-5zM373 1100h5v7h-5zM382 1095h5v7h-5zM388 1130h5v7h-5zM395 1145h5v7h-5zM380 1140h5v7h-5zM370 1150h5v7h-5zM364 1135h5v7h-5zM350 1145h5v7h-5zM306 968h5v7h-5zM331 960h5v7h-5zM350 955h5v7h-5zM351 932h5v7h-5zM341 1004h5v7h-5zM318 1010h5v7h-5zM265 1044h5v7h-5zM489 1110h5v7h-5zM497 1135h5v7h-5zM500 1168h5v7h-5zM510 1168h5v7h-5zM516 1168h5v7h-5zM522 1168h5v7h-5zM602 1168h5v7h-5zM656 1168h5v7h-5zM536 1137h5v7h-5zM547 1125h5v7h-5zM558 1128h5v7h-5zM568 1143h5v7h-5zM571 1143h5v7h-5zM594 1125h5v7h-5zM600 1100h5v7h-5zM599 1133h5v7h-5zM614 1110h5v7h-5zM617 1128h5v7h-5zM625 1130h5v7h-5zM633 1098h5v7h-5zM642 1103h5v7h-5zM646 1113h5v7h-5zM648 1135h5v7h-5zM661 1112h5v7h-5zM663 1126h5v7h-5zM674 1115h5v7h-5zM676 1142h5v7h-5zM684 1110h5v7h-5zM695 1100h5v7h-5zM697 1112h5v7h-5zM682 1130h5v7h-5zM1073 1002h5v7h-5zM1223 971h5v7h-5zM1015 952h5v7h-5zM925 1033h5v7h-5zM924 934h5v7h-5zM921 958h5v7h-5zM860 950h5v7h-5zM842 955h5v7h-5zM872 975h5v7h-5zM883 955h5v7h-5zM874 930h5v7h-5zM837 987h5v7h-5zM826 980h5v7h-5zM814 980h5v7h-5zM791 982h5v7h-5zM779 1025h5v7h-5zM750 1010h5v7h-5zM353 1115h5v7h-5zM358 1125h5v7h-5zM362 1108h5v7h-5zM366 1140h5v7h-5zM371 1125h5v7h-5zM374 1135h5v7h-5zM378 1112h5v7h-5zM381 1128h5v7h-5zM385 1118h5v7h-5zM390 1140h5v7h-5zM393 1120h5v7h-5zM398 1125h5v7h-5zM403 1115h5v7h-5zM408 1130h5v7h-5zM415 1125h5v7h-5zM420 1110h5v7h-5zM426 1120h5v7h-5zM436 1115h5v7h-5zM440 1128h5v7h-5zM448 1120h5v7h-5zM452 1130h5v7h-5zM456 1110h5v7h-5zM362 1088h5v7h-5zM347 1100h5v7h-5zM386 1085h5v7h-5z"/>
</g>
</svg>
</body></html>
